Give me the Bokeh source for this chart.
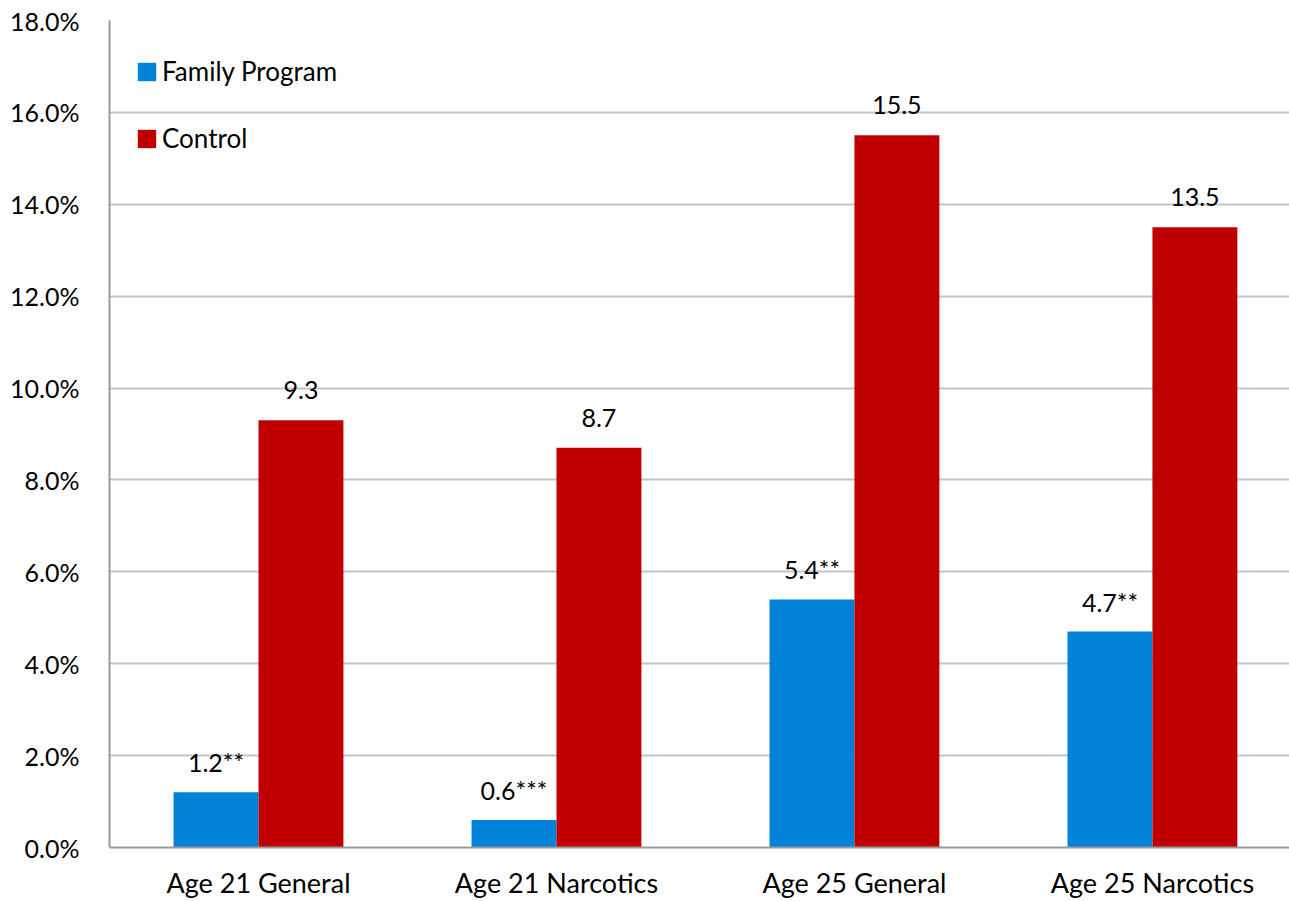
from bokeh.plotting import figure
from bokeh.models import (ColumnDataSource, Range1d, FixedTicker, LabelSet,
                          Legend, LegendItem)
from bokeh.core.properties import value
from bokeh.embed import file_html
from bokeh.resources import INLINE

# Percentage of youth with a conviction, by outcome and group
categories = ["Age 21 General", "Age 21 Narcotics", "Age 25 General", "Age 25 Narcotics"]
family_program = [1.2, 0.6, 5.4, 4.7]
control = [9.3, 8.7, 15.5, 13.5]
family_labels = ["1.2**", "0.6***", "5.4**", "4.7**"]
control_labels = ["9.3", "8.7", "15.5", "13.5"]
y_ticks = [0, 2, 4, 6, 8, 10, 12, 14, 16, 18]

FONT = "Lato"
BLUE = "#0082D9"
RED = "#C00000"
BAR_W = 0.285

centers = [i + 0.5 for i in range(len(categories))]
src_fp = ColumnDataSource(dict(x=[c - BAR_W / 2 for c in centers], top=family_program,
                               label=family_labels))
src_ct = ColumnDataSource(dict(x=[c + BAR_W / 2 for c in centers], top=control,
                               label=control_labels))

p = figure(width=1289, height=901, output_backend="svg", toolbar_location=None,
           x_range=Range1d(0, 3.96), y_range=Range1d(0, 18),
           min_border_left=109, min_border_right=0, min_border_top=20,
           min_border_bottom=54)
p.outline_line_color = None
p.background_fill_color = "white"

r_fp = p.vbar(x="x", top="top", width=BAR_W, source=src_fp, fill_color=BLUE,
              line_color=None)
r_ct = p.vbar(x="x", top="top", width=BAR_W, source=src_ct, fill_color=RED,
              line_color=None)

for src in (src_fp, src_ct):
    p.add_layout(LabelSet(x="x", y="top", text="label", source=src, y_offset=30,
                          text_align="center", text_baseline="middle",
                          text_font=value(FONT), text_font_size="25px",
                          text_color="black"))

# Axes
p.xaxis.ticker = FixedTicker(ticks=centers)
p.xaxis.major_label_overrides = {c: name for c, name in zip(centers, categories)}
p.xaxis.major_tick_line_color = None
p.xaxis.minor_tick_line_color = None
p.xaxis.axis_line_color = "#9a9a9a"
p.xaxis.axis_line_width = 2
p.xaxis.major_label_text_font = FONT
p.xaxis.major_label_text_font_size = "27px"
p.xaxis.major_label_text_color = "black"
p.xaxis.major_label_standoff = 12

p.yaxis.ticker = FixedTicker(ticks=y_ticks)
p.yaxis.major_label_overrides = {t: f"{t:.1f}%" for t in y_ticks}
p.yaxis.major_tick_line_color = None
p.yaxis.minor_tick_line_color = None
p.yaxis.axis_line_color = "#9a9a9a"
p.yaxis.axis_line_width = 2
p.yaxis.major_label_text_font = FONT
p.yaxis.major_label_text_font_size = "25px"
p.yaxis.major_label_text_color = "black"
p.yaxis.major_label_standoff = 24

p.xgrid.grid_line_color = None
p.ygrid.grid_line_color = "#c4c4c4"
p.ygrid.grid_line_width = 2

legend = Legend(items=[LegendItem(label="Family Program", renderers=[r_fp]),
                       LegendItem(label="Control", renderers=[r_ct])],
                location=(26, 693), margin=0, padding=8, spacing=35,
                glyph_width=23, glyph_height=23, label_standoff=4,
                label_text_font=FONT, label_text_font_size="26px",
                label_text_color="black", border_line_color=None,
                background_fill_alpha=0)
p.add_layout(legend)

open("out.html", "w").write(file_html(p, INLINE))
